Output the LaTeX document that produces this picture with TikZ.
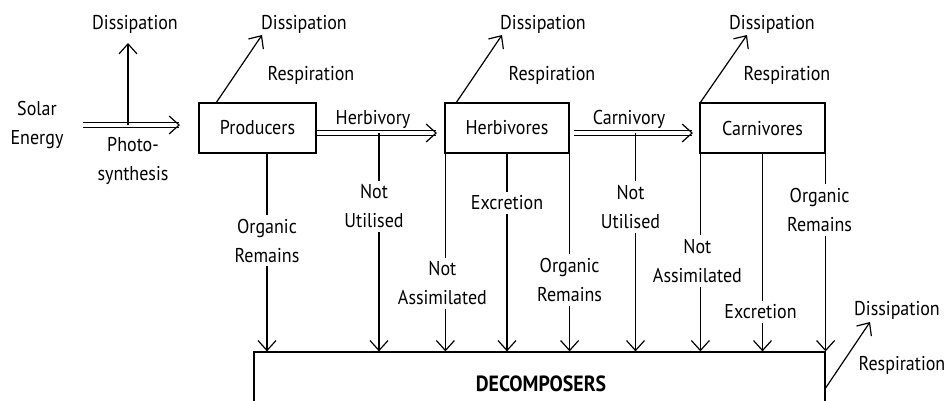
\documentclass[tikz,border=0pt]{standalone}
\usepackage{fontspec}
\setmainfont{PT Sans}[FakeStretch=0.9]
\usetikzlibrary{arrows.meta}
\tikzset{
  box/.style={draw, line width=1.2pt, minimum height=50pt, inner sep=0pt},
  arr/.style={line width=1.2pt, -{Straight Barb[length=10pt,width=18pt,line width=1.2pt]}},
  dbl/.style={line width=1.1pt, double, double distance=3.4pt},
  lbl/.style={fill=white, align=center, inner sep=4pt},
  txt/.style={anchor=base}
}

\begin{document}
\fontsize{20}{29}\selectfont
\begin{tikzpicture}[x=1pt,y=-1pt]
  \clip (0,0) rectangle (948,400);
  \node[box, minimum width=117pt] (prod) at (257.5,128) {Producers};
  \node[box, minimum width=124pt] (herb) at (507,128) {Herbivores};
  \node[box, minimum width=125pt] (carn) at (762.5,128) {Carnivores};
  \node[box, minimum width=571pt, minimum height=100pt] (dec) at (539.5,402) {};
  \node[font=\fontsize{22}{29}\selectfont\bfseries] (decname) at (541,384) {DECOMPOSERS};

  \node[align=center] (solar) at (37,125) {Solar\\Energy};
  \node[align=center] (photo) at (133,161) {Photo-\\synthesis};
  \node[txt] (diss0) at (135,29.5) {Dissipation};
  \node[txt] (diss1) at (304,29.5) {Dissipation};
  \node[txt] (resp1) at (311,80.7) {Respiration};
  \node[txt] (diss2) at (543,29.5) {Dissipation};
  \node[txt] (resp2) at (552,80.7) {Respiration};
  \node[txt] (diss3) at (772,29.5) {Dissipation};
  \node[txt] (resp3) at (787,80.7) {Respiration};
  \node[txt] (diss4) at (897,315) {Dissipation};
  \node[txt] (resp4) at (902,370) {Respiration};
  \node[txt] (herbivory) at (373,124) {Herbivory};
  \node[txt] (carnivory) at (629,124) {Carnivory};

  \coordinate (sun0) at (83,125);
  \coordinate (sun1) at (180,125);
  \coordinate (up0) at (128,43);
  \coordinate (tip1) at (262,35);
  \coordinate (tip2) at (502,35);
  \coordinate (tip3) at (747,35);
  \coordinate (tip4) at (870,322);
  \coordinate (hv1) at (437,133);
  \coordinate (cv0) at (574,133);
  \coordinate (cv1) at (693,133);

  \draw[dbl] (sun0) -- ([xshift=-1]sun1);
  \draw[arr] ([xshift=-2]sun1) -- (sun1);
  \draw[arr] (sun0 -| up0) -- (up0);
  \draw[dbl] ([yshift=-5]prod.east) -- ([xshift=-1]hv1);
  \draw[arr] ([xshift=-2]hv1) -- (hv1);
  \draw[dbl] (cv0) -- ([xshift=-1]cv1);
  \draw[arr] ([xshift=-2]cv1) -- (cv1);

  \draw[arr] ([xshift=18]prod.north west) -- (tip1);
  \draw[arr] ([xshift=12]herb.north west) -- (tip2);
  \draw[arr] ([xshift=1]carn.north west) -- (tip3);
  \draw[arr] (dec.north east |- 0,388) -- (tip4);

  \draw[arr] ([xshift=9.5]prod.south) coordinate (p1) -- node[lbl, pos=0.44] {Organic\\Remains} (p1 |- dec.north);
  \draw[arr] (hv1 -| 379,0) coordinate (p2) -- node[lbl, pos=0.336, xshift=-5] {Not\\Utilised} (p2 |- dec.north);
  \draw[arr] ([xshift=1]herb.south west) coordinate (p3) -- node[lbl, pos=0.656, xshift=-3] {Not\\Assimilated} (p3 |- dec.north);
  \draw[arr] (herb.south) coordinate (p4) -- node[lbl, pos=0.249] {Excretion} (p4 |- dec.north);
  \draw[arr] (herb.south east) coordinate (p5) -- node[lbl, pos=0.638] {Organic\\Remains} (p5 |- dec.north);
  \draw[arr] (cv0 -| 635.5,0) coordinate (p6) -- node[lbl, pos=0.339, xshift=-5] {Not\\Utilised} (p6 |- dec.north);
  \draw[arr] ([xshift=1]carn.south west) coordinate (p7) -- node[lbl, pos=0.543, xshift=-3] {Not\\Assimilated} (p7 |- dec.north);
  \draw[arr] (carn.south) coordinate (p8) -- node[lbl, pos=0.80, xshift=-2] {Excretion} (p8 |- dec.north);
  \draw[arr] (carn.south east) coordinate (p9) -- node[lbl, pos=0.286, xshift=-6] {Organic\\Remains} (p9 |- dec.north);
\end{tikzpicture}
\end{document}
